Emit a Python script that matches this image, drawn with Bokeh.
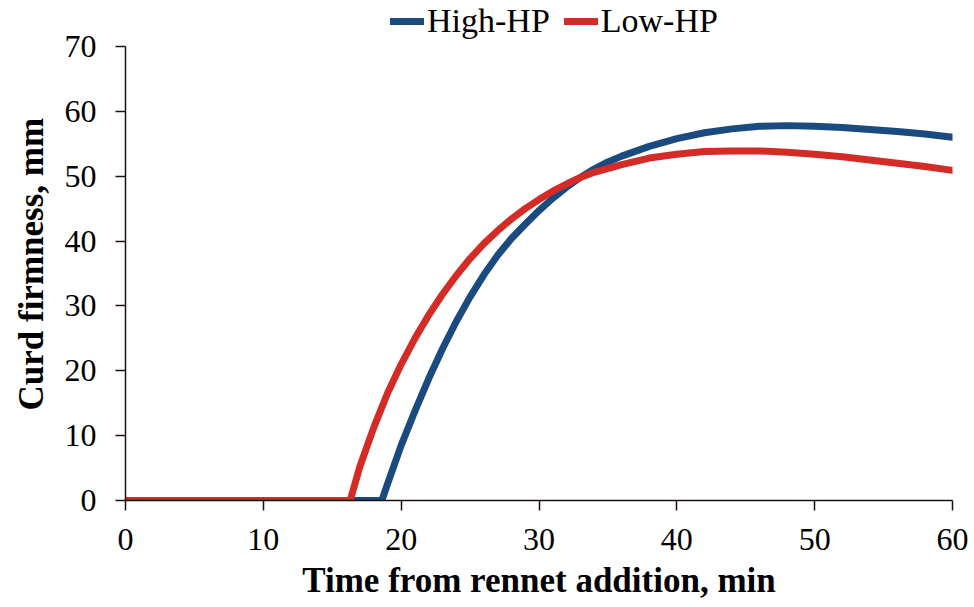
from bokeh.plotting import figure
from bokeh.models import Range1d, Legend, LegendItem, FixedTicker, Title
from bokeh.embed import file_html
from bokeh.resources import INLINE

high_t = [0, 18.6, 19, 20, 21, 22, 23, 24, 25, 26, 27, 28, 29, 30, 31, 32, 33, 34, 35, 36,
          38, 40, 42, 44, 46, 48, 50, 52, 54, 56, 58, 60]
high_v = [0, 0, 2.5, 8.5, 13.8, 18.8, 23.4, 27.6, 31.4, 34.8, 37.8, 40.4, 42.6, 44.7, 46.6, 48.3,
          49.8, 51.1, 52.2, 53.1, 54.6, 55.8, 56.7, 57.3, 57.7, 57.8, 57.7, 57.5, 57.2, 56.9, 56.5, 56.0]

low_t = [0, 16.3, 17, 18, 19, 20, 21, 22, 23, 24, 25, 26, 27, 28, 29, 30, 31, 32, 33, 34,
         36, 38, 40, 42, 44, 46, 48, 50, 52, 54, 56, 58, 60]
low_v = [0, 0, 5.2, 11.2, 16.5, 21.0, 25.0, 28.6, 31.8, 34.7, 37.3, 39.6, 41.6, 43.4, 45.0, 46.4,
         47.7, 48.8, 49.8, 50.6, 51.8, 52.8, 53.4, 53.8, 53.9, 53.9, 53.7, 53.4, 53.0, 52.5, 52.0, 51.5, 50.9]

x_ticks = [0, 10, 20, 30, 40, 50, 60]
y_ticks = [0, 10, 20, 30, 40, 50, 60, 70]

FONT = "Liberation Serif"
BLUE = "#1b4a7f"
RED = "#d42b27"
AXIS = "#1a1010"

# frame spans the full height above the x axis; the y axis itself stops at 70
y_top = 70 * 500 / 454
p = figure(width=974, height=607, output_backend="svg", toolbar_location=None,
           x_range=Range1d(0, 60), y_range=Range1d(0, y_top),
           min_border_left=125, min_border_right=22, min_border_top=0, min_border_bottom=107)
p.outline_line_color = None
p.xgrid.visible = False
p.ygrid.visible = False
p.background_fill_color = "white"

r_high = p.line(high_t, high_v, line_color=BLUE, line_width=7, line_cap="round", line_join="round")
r_low = p.line(low_t, low_v, line_color=RED, line_width=7, line_cap="round", line_join="round")

for ax in (p.xaxis[0], p.yaxis[0]):
    ax.axis_line_color = AXIS
    ax.axis_line_width = 1.5
    ax.major_tick_line_color = AXIS
    ax.major_tick_line_width = 1.5
    ax.major_tick_out = 10
    ax.major_tick_in = 0
    ax.minor_tick_line_color = None
    ax.major_label_text_font = FONT
    ax.major_label_text_font_size = "32px"
    ax.major_label_text_color = "black"
    ax.axis_label_text_font = FONT
    ax.axis_label_text_font_size = "35px"
    ax.axis_label_text_font_style = "bold"
    ax.axis_label_text_color = "black"

p.xaxis[0].ticker = FixedTicker(ticks=x_ticks)
p.yaxis[0].ticker = FixedTicker(ticks=y_ticks)
p.yaxis[0].bounds = (0, 70)
p.xaxis[0].axis_label = "Time from rennet addition, min"
p.xaxis[0].major_label_standoff = 18
p.yaxis[0].major_label_standoff = 19
p.xaxis[0].axis_label_standoff = 8

ytitle = Title(text="Curd firmness, mm", align="left", offset=90, vertical_align="middle",
               standoff=20, text_font=FONT, text_font_size="35px", text_font_style="bold",
               text_color="black")
p.add_layout(ytitle, "left")

legend = Legend(items=[LegendItem(label="High-HP", renderers=[r_high]),
                       LegendItem(label="Low-HP", renderers=[r_low])],
                orientation="horizontal", location=(265, 460),
                label_text_font=FONT, label_text_font_size="34px", label_text_color="black",
                glyph_width=34, label_standoff=3, spacing=14, padding=0, margin=0,
                border_line_color=None, background_fill_alpha=0)
p.add_layout(legend, "center")

open("out.html", "w").write(file_html(p, INLINE))
